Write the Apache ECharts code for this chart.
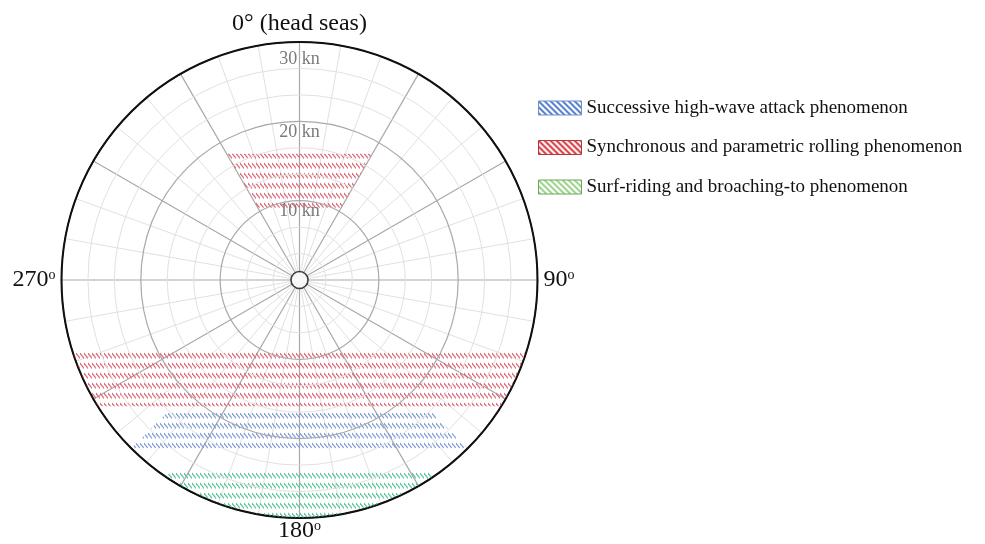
<!DOCTYPE html>
<html><head><meta charset="utf-8">
<script src="https://cdn.jsdelivr.net/npm/echarts@6/dist/echarts.min.js"></script>
<style>html,body{margin:0;padding:0;background:#fff}#c{width:985px;height:544px}</style>
</head><body><div id="c"></div>
<script>
// ---- data ----
const speedMax = 30;                       // kn, outer circle
const speedTicks = [10, 20, 30];
const speedTickLabels = ['10 kn', '20 kn', '30 kn'];
const headingTicks = [0, 90, 180, 270];
const headingTickLabels = ['0° (head seas)', '90', '180', '270'];
const zoneNames = [
  'Successive high-wave attack phenomenon',
  'Synchronous and parametric rolling phenomenon',
  'Surf-riding and broaching-to phenomenon'
];
// each region: [u_min, u_max, sector centre (deg), sector half-width (deg)], u = V·cos(heading) in kn
const highWaveRegions = [[-21.2, -16.7, 180, 45]];
const rollingRegions  = [[9.1, 15.9, 0, 30], [-15.9, -9.1, 180, 180]];
const surfRegions     = [[-30, -24.0, 180, 34]];
const centrePoint = [[0, 0]];

// ---- styles ----
const FONT = 'Liberation Serif';
function hatchPattern(color) {
  const c = document.createElement('canvas');
  c.width = 4; c.height = 10;
  const g = c.getContext('2d');
  g.strokeStyle = color; g.lineWidth = 1.3;
  g.beginPath(); g.moveTo(-0.3, 3); g.lineTo(4.3, 8.5); g.stroke();
  return { image: c, repeat: 'repeat' };
}
function legendPattern(color) {
  const c = document.createElement('canvas');
  c.width = 6; c.height = 6;
  const g = c.getContext('2d');
  g.fillStyle = '#fff'; g.fillRect(0, 0, 6, 6);
  g.strokeStyle = color; g.lineWidth = 1.8;
  g.beginPath();
  g.moveTo(-1, -1); g.lineTo(7, 7);
  g.moveTo(-1, 5); g.lineTo(1, 7);
  g.moveTo(5, -1); g.lineTo(7, 1);
  g.stroke();
  return { image: c, repeat: 'repeat' };
}
const zoneHatch = [hatchPattern('rgba(120,150,210,0.9)'), hatchPattern('rgba(220,100,115,0.95)'), hatchPattern('rgba(85,195,150,0.95)')];
const zoneLegend = [
  { fill: legendPattern('#3f6fc6'), border: '#6f8fcf' },
  { fill: legendPattern('#d01c24'), border: '#b43a3a' },
  { fill: legendPattern('#8fce7a'), border: '#6aa85a' }
];

// ---- geometry helpers (in kn space: x = V sin h, y = V cos h) ----
function clipHalf(poly, a, b, c) {
  const out = [];
  for (let i = 0; i < poly.length; i++) {
    const p = poly[i], q = poly[(i + 1) % poly.length];
    const fp = a * p[0] + b * p[1] + c, fq = a * q[0] + b * q[1] + c;
    if (fp >= 0) out.push(p);
    if ((fp >= 0) !== (fq >= 0)) {
      const t = fp / (fp - fq);
      out.push([p[0] + t * (q[0] - p[0]), p[1] + t * (q[1] - p[1])]);
    }
  }
  return out;
}
function regionPolygon(uMin, uMax, centre, half) {
  let poly = [];
  for (let i = 0; i < 720; i++) {
    const h = i / 2 * Math.PI / 180;
    poly.push([speedMax * Math.sin(h), speedMax * Math.cos(h)]);
  }
  poly = clipHalf(poly, 0, 1, -uMin);
  poly = clipHalf(poly, 0, -1, uMax);
  if (half < 180) {
    const a1 = (centre - half) * Math.PI / 180, a2 = (centre + half) * Math.PI / 180;
    poly = clipHalf(poly, Math.cos(a1), -Math.sin(a1), 0);
    poly = clipHalf(poly, -Math.cos(a2), Math.sin(a2), 0);
  }
  return poly.map(p => {
    let ang = Math.atan2(p[0], p[1]) * 180 / Math.PI;
    if (ang < 0) ang += 360;
    return [Math.hypot(p[0], p[1]), ang];   // [radius, angle] data
  });
}
function zoneSeries(name, regions, idx) {
  return {
    name: name, type: 'custom', coordinateSystem: 'polar', z: 3,
    dimensions: ['uMin', 'uMax', 'centre', 'half'],
    data: regions,
    itemStyle: { color: zoneLegend[idx].border },
    renderItem: function (params, api) {
      const pts = regionPolygon(api.value(0), api.value(1), api.value(2), api.value(3)).map(d => api.coord(d));
      return { type: 'polygon', shape: { points: pts }, style: { fill: zoneHatch[idx], stroke: null } };
    }
  };
}

const chart = echarts.init(document.getElementById('c'), null, { renderer: 'canvas' });
chart.setOption({
  backgroundColor: '#fff',
  animation: false,
  polar: { center: [299.5, 280], radius: 238 },
  angleAxis: {
    type: 'value', min: 0, max: 360, interval: 30, startAngle: 90, clockwise: true,
    axisLine: { lineStyle: { color: '#111', width: 2 } },
    axisTick: { show: false },
    minorTick: { show: false, splitNumber: 3 },
    splitLine: { show: true, lineStyle: { color: '#a9a9a9', width: 1.2 } },
    minorSplitLine: { show: true, lineStyle: { color: '#e1e1e1', width: 1 } },
    axisLabel: {
      margin: 6, color: '#111', fontFamily: FONT, fontSize: 24,
      formatter: function (v) {
        const i = headingTicks.indexOf(v);
        if (i < 0) return '';
        if (i === 0) return '{n|' + headingTickLabels[0] + '}';
        if (v === 180) return '{b|' + headingTickLabels[i] + '}{q|o}';
        return '{n|' + headingTickLabels[i] + '}{o|o}';
      },
      rich: {
        n: { fontFamily: FONT, fontSize: 24, lineHeight: 24, color: '#111' },
        o: { fontFamily: FONT, fontSize: 14, lineHeight: 16, verticalAlign: 'top', color: '#111' },
        b: { fontFamily: FONT, fontSize: 24, lineHeight: 14, color: '#111' },
        q: { fontFamily: FONT, fontSize: 14, lineHeight: 8, height: 4, verticalAlign: 'top', color: '#111' }
      }
    }
  },
  radiusAxis: {
    type: 'value', min: 0, max: speedMax, interval: 10,
    axisLine: { show: false }, axisTick: { show: false },
    minorTick: { show: false, splitNumber: 3 },
    splitLine: { show: true, lineStyle: { color: ['#a9a9a9', '#a9a9a9', '#a9a9a9', '#111'], width: 1.2 } },
    minorSplitLine: { show: true, lineStyle: { color: '#e1e1e1', width: 1 } },
    axisLabel: {
      margin: 0, align: 'center', verticalAlign: 'top', color: '#7a7a7a', fontFamily: FONT, fontSize: 18,
      formatter: function (v) {
        const i = speedTicks.indexOf(v);
        if (i < 0) return '';
        return i === speedTicks.length - 1 ? '{t|' + speedTickLabels[i] + '}' : '{s|' + speedTickLabels[i] + '}';
      },
      rich: {
        s: { fontFamily: FONT, fontSize: 18, color: '#7a7a7a', padding: [2, 0, 0, 0] },
        t: { fontFamily: FONT, fontSize: 18, color: '#7a7a7a', padding: [8, 0, 0, 0] }
      }
    },
    z: 5
  },
  legend: {
    orient: 'vertical', left: 538, top: 98, padding: 0, itemWidth: 43, itemHeight: 14, itemGap: 19.5,
    icon: 'rect', selectedMode: false,
    textStyle: { fontFamily: FONT, fontSize: 19, color: '#111', lineHeight: 20 },
    data: zoneNames.map((n, i) => ({ name: n, icon: 'rect', itemStyle: { color: zoneLegend[i].fill, borderColor: zoneLegend[i].border, borderWidth: 1 } }))
  },
  series: [
    zoneSeries(zoneNames[0], highWaveRegions, 0),
    zoneSeries(zoneNames[1], rollingRegions, 1),
    zoneSeries(zoneNames[2], surfRegions, 2),
    {
      type: 'scatter', coordinateSystem: 'polar', data: centrePoint, symbol: 'circle', symbolSize: 17, z: 10,
      itemStyle: { color: '#fff', borderColor: '#111', borderWidth: 1.6 }, silent: true
    }
  ]
});
</script>
</body></html>
